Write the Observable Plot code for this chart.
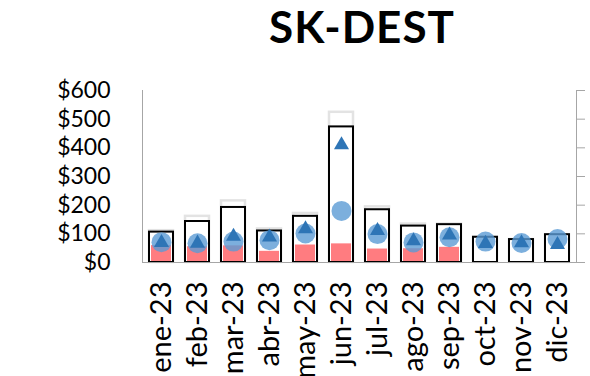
<!DOCTYPE html>
<html>
<head>
<meta charset="utf-8">
<script src="https://cdn.jsdelivr.net/npm/d3@7"></script>
<script src="https://cdn.jsdelivr.net/npm/@observablehq/plot@0.6"></script>
<style>
  html, body { margin: 0; padding: 0; background: #fff; }
  #wrap { width: 590px; height: 376px; position: relative; overflow: hidden; font-family: Lato, "DejaVu Sans", sans-serif; }
  #title { position: relative; height: 60px; }
  #title span { position: absolute; left: 362px; top: 4px; transform: translateX(-50%); font-size: 44px; line-height: 45px; font-weight: 700; letter-spacing: 1px; color: #000; white-space: nowrap; }
</style>
</head>
<body>
<div id="wrap">
  <div id="title"><span>SK-DEST</span></div>
  <div id="chart"></div>
</div>
<script>
const months = ["ene-23","feb-23","mar-23","abr-23","may-23","jun-23","jul-23","ago-23","sep-23","oct-23","nov-23","dic-23"];
const greyValues = [111, 161, 215, 117, 171, 524, 194, 134, 134, 88, 80, 97];
const blackValues = [106, 143, 192, 110, 161, 473, 184, 127, 132, 88, 80, 97];
const pinkValues = [59, 55, 58, 39, 61, 65, 47, 48, 53, 0, 0, 0];
const circleValues = [71, 67, 73, 78, 101, 180, 99, 70, 88, 73, 68, 82];
const triangleValues = [76, 74, 98, 95, 124, 417, 118, 82, 102, 73, 75, 69];
const yTicks = [0, 100, 200, 300, 400, 500, 600];

const data = months.map((m, i) => ({
  month: m,
  grey: greyValues[i],
  black: blackValues[i],
  pink: pinkValues[i],
  circle: circleValues[i],
  triangle: triangleValues[i]
}));

const chart = Plot.plot({
  width: 590,
  height: 316,
  marginTop: 30,
  marginBottom: 114,
  marginLeft: 142,
  marginRight: 14,
  style: { fontFamily: "Lato, 'DejaVu Sans', sans-serif", background: "white", color: "black" },
  x: { domain: months, paddingInner: 0.33, paddingOuter: 0.165, axis: null },
  y: { domain: [0, 600], axis: null },
  marks: [
    Plot.barY(data, { x: "month", y: "grey", fill: "white", stroke: "#e3e3e3", strokeWidth: 2.5 }),
    Plot.barY(data, { x: "month", y: "black", fill: "white", stroke: "black", strokeWidth: 2 }),
    Plot.barY(data.filter(d => d.pink > 0), { x: "month", y: "pink", fill: "#ff7c80", insetLeft: 2, insetRight: 2, insetBottom: 1 }),
    Plot.frame({ anchor: "left", stroke: "#a6a6a6" }),
    Plot.frame({ anchor: "right", stroke: "#a6a6a6" }),
    Plot.frame({ anchor: "bottom", stroke: "#a6a6a6" }),
    Plot.axisY({ ticks: yTicks, tickSize: 0, tickPadding: 32, tickFormat: d => "$" + d, fontSize: 23, label: null }),
    Plot.axisY({ anchor: "right", ticks: yTicks, tickSize: 8, tickFormat: () => "", stroke: "#a6a6a6", label: null }),
    Plot.axisX({ tickSize: 0, tickPadding: 19, tickRotate: -90, fontSize: 29, label: null }),
    Plot.dot(data, { x: "month", y: "circle", r: 10, fill: "#5b9bd5", fillOpacity: 0.8 }),
    Plot.dot(data, { x: "month", y: "triangle", r: 5.6, symbol: "triangle", fill: "#2e75b6", dy: 2 })
  ]
});
document.getElementById("chart").appendChild(chart);
</script>
</body>
</html>
